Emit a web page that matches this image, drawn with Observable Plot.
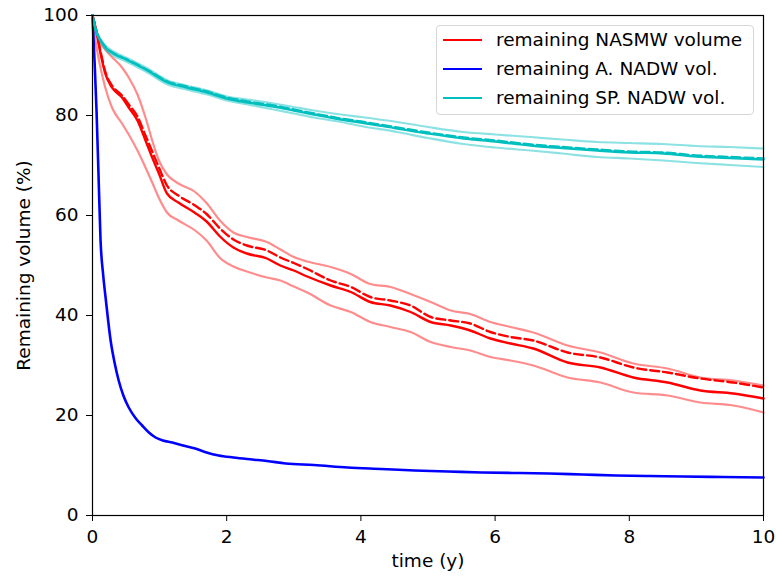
<!DOCTYPE html>
<html>
<head>
<meta charset="utf-8">
<script src="https://cdn.jsdelivr.net/npm/d3@7"></script>
<script src="https://cdn.jsdelivr.net/npm/@observablehq/plot@0.6"></script>
<style>
  html, body { margin: 0; padding: 0; background: #fff; }
  #wrap { position: relative; width: 776px; height: 576px; font-family: "DejaVu Sans", sans-serif; }
  #legend { position: absolute; left: 436px; top: 25px; width: 318px; height: 90px;
    border: 1px solid #d6d6d6; border-radius: 4px; background: rgba(255,255,255,0.8); box-sizing: border-box; }
  .row { position: absolute; left: 0; height: 24px; line-height: 24px; display: flex; align-items: center; font-size: 18.5px; color: #000; white-space: nowrap; }
  .sw { width: 39px; height: 0; border-top: 2.5px solid; margin-left: 6px; margin-right: 14px; }
</style>
</head>
<body>
<div id="wrap"></div>
<script>
// ---- data ----
const seriesNames = ["remaining NASMW volume", "remaining A. NADW vol.", "remaining SP. NADW vol."];
const seriesColors = ["#ff0000", "#0000ff", "#00bfbf"];
const xTicks = [0, 2, 4, 6, 8, 10];
const yTicks = [0, 20, 40, 60, 80, 100];

const blueT = [0,0.03,0.06,0.09,0.12,0.16,0.2,0.27,0.33,0.39,0.46,0.54,0.64,0.74,0.84,0.94,1.05,1.19,1.35,1.53,1.7,1.88,2.1,2.38,2.6,2.88,3.3,3.8,4.3,4.8,5.3,5.8,6.3,6.8,7.3,7.8,8.3,8.8,9.4,10];
const blueV = [100,91,81,68,55,48,43,35,30.5,27,24,21.6,19.5,18,16.6,15.6,15,14.6,14,13.4,12.6,12,11.6,11.2,10.9,10.4,10.1,9.6,9.3,9,8.8,8.6,8.5,8.4,8.2,8,7.9,7.8,7.7,7.6];

const redT = [0,0.045,0.12,0.19,0.29,0.44,0.54,0.67,0.79,0.89,0.99,1.11,1.28,1.53,1.7,1.9,2.1,2.3,2.6,2.8,3.0,3.2,3.55,3.85,4.14,4.44,4.74,5.04,5.34,5.63,5.93,6.23,6.57,7.08,7.57,8.06,8.57,9.06,9.55,10];
const redV = [100,97.6,92.4,88.4,85.6,83.6,81.6,79,75,71.6,68.4,64.4,62.6,60.5,58.8,55.8,53.6,52.4,51.4,50,49,47.8,46,44.7,42.7,42,40.7,38.7,38,37,35.4,34.4,33.4,30.6,29.6,27.6,26.6,25,24.4,23.4];
const redDashV = [100,97.8,92.8,88.8,86,84,82.2,79.8,76,72.8,69.6,66,64,62,60.3,57.4,55.2,54,53,51.6,50.5,49.3,47,45.7,43.7,43,42,39.7,39,38.4,36.7,35.7,35,32.6,31.6,29.6,28.6,27.4,26.6,25.6];
const redUpV = [100,97.5,94.5,93.2,91.7,89.6,87.6,84.2,79.6,75,71,68.2,66.4,64.7,62.5,59,56.6,55.7,54.7,53.2,51.7,50.8,49.7,48.3,46.3,45.7,44.3,42.7,41,40.3,38.7,37.7,36.6,34,32.6,30.4,29.4,27.6,27,26];
const redLoV = [100,95,89.5,85.6,81.6,78.4,76.2,73,69.6,66.6,63.5,60.6,59,57,55,51.5,49.8,48.8,47.6,47,45.8,44.6,42,40.7,38.7,37.7,36.7,34.7,33.7,33,31.7,31,30,27.6,26.6,24.6,24,22.6,22,20.6];

const cyanT = [0,0.05,0.12,0.2,0.31,0.5,0.82,1.12,1.4,1.71,2.0,2.31,2.7,3.0,3.3,3.7,4.0,4.54,5.0,5.53,6.0,6.53,7.0,7.52,8.0,8.51,9.0,9.5,10];
const cyanV = [100,97,95,93.5,92.4,91.2,89,86.6,85.6,84.6,83.4,82.6,81.8,81,80.2,79.2,78.6,77.4,76.4,75.4,74.8,74,73.5,73,72.6,72.4,71.8,71.5,71.2];
const cyanDashV = [100,97.1,95.1,93.6,92.5,91.3,89.1,86.8,85.8,84.8,83.6,82.8,82,81.2,80.4,79.4,78.8,77.6,76.6,75.6,75,74.2,73.7,73.2,72.8,72.6,72,71.7,71.4];
const cyanUpV = [100,97.2,95.3,93.9,92.8,91.6,89.4,87,86,85,83.8,83.2,82.4,81.7,81,80.2,79.7,78.7,77.7,76.7,76.2,75.7,75.2,74.7,74.5,74.3,73.9,73.7,73.4];
const cyanLoV = [100,96.8,94.7,93.1,92,90.8,88.6,86.2,85.2,84.2,83,82.2,81.2,80.4,79.6,78.7,77.9,76.7,75.5,74.3,73.6,73,72.4,71.7,71.4,71,70.5,70.1,69.7];

const xLabel = "time (y)";
const yLabel = "Remaining volume (%)";

// ---- build tables ----
const pts = (T, V) => T.map((t, i) => ({t, v: V[i]}));
const line = (T, V, opts) => Plot.line(pts(T, V), {x: "t", y: "v", curve: "monotone-x", strokeLinejoin: "round", ...opts});

const font = "DejaVu Sans, sans-serif";
const FS = 18.5;
const chart = Plot.plot({
  width: 776, height: 576,
  marginLeft: 92, marginRight: 13, marginTop: 15, marginBottom: 61,
  style: {fontFamily: font, fontSize: FS + "px", color: "#000", background: "#fff"},
  x: {domain: [0, 10]},
  y: {domain: [0, 100]},
  marks: [
    line(redT, redUpV, {stroke: seriesColors[0], strokeOpacity: 0.45, strokeWidth: 2.2}),
    line(redT, redLoV, {stroke: seriesColors[0], strokeOpacity: 0.45, strokeWidth: 2.2}),
    line(redT, redV, {stroke: seriesColors[0], strokeWidth: 2.4}),
    line(redT, redDashV, {stroke: seriesColors[0], strokeWidth: 2.4, strokeDasharray: "9,4"}),
    line(blueT, blueV, {stroke: seriesColors[1], strokeWidth: 2.6}),
    line(cyanT, cyanUpV, {stroke: seriesColors[2], strokeOpacity: 0.45, strokeWidth: 2.2}),
    line(cyanT, cyanLoV, {stroke: seriesColors[2], strokeOpacity: 0.45, strokeWidth: 2.2}),
    line(cyanT, cyanV, {stroke: seriesColors[2], strokeWidth: 2.4}),
    line(cyanT, cyanDashV, {stroke: seriesColors[2], strokeWidth: 2.4, strokeDasharray: "9,4"}),
    Plot.frame({stroke: "#000", strokeWidth: 1.2}),
    Plot.axisX({ticks: xTicks, tickSize: 6, tickPadding: 8, label: null, fontSize: FS, tickFormat: d => String(d)}),
    Plot.axisY({ticks: yTicks, tickSize: 6, tickPadding: 8, label: null, fontSize: FS, tickFormat: d => String(d)}),
    Plot.text([xLabel], {frameAnchor: "bottom", lineAnchor: "middle", textAnchor: "middle", dy: 46, text: d => d, fontSize: FS, fill: "#000"}),
    Plot.text([yLabel], {frameAnchor: "left", lineAnchor: "middle", textAnchor: "middle", dx: -68, rotate: -90, text: d => d, fontSize: FS, fill: "#000"})
  ]
});

const wrap = document.getElementById("wrap");
wrap.appendChild(chart);

// legend (HTML overlay, like matplotlib's upper-right legend)
const legend = document.createElement("div");
legend.id = "legend";
const rowTops = [2, 31, 60];
seriesNames.forEach((name, i) => {
  const row = document.createElement("div");
  row.className = "row";
  row.style.top = rowTops[i] + "px";
  const sw = document.createElement("div");
  sw.className = "sw";
  sw.style.borderTopColor = seriesColors[i];
  const tx = document.createElement("span");
  tx.textContent = name;
  row.appendChild(sw);
  row.appendChild(tx);
  legend.appendChild(row);
});
wrap.appendChild(legend);
</script>
</body>
</html>
